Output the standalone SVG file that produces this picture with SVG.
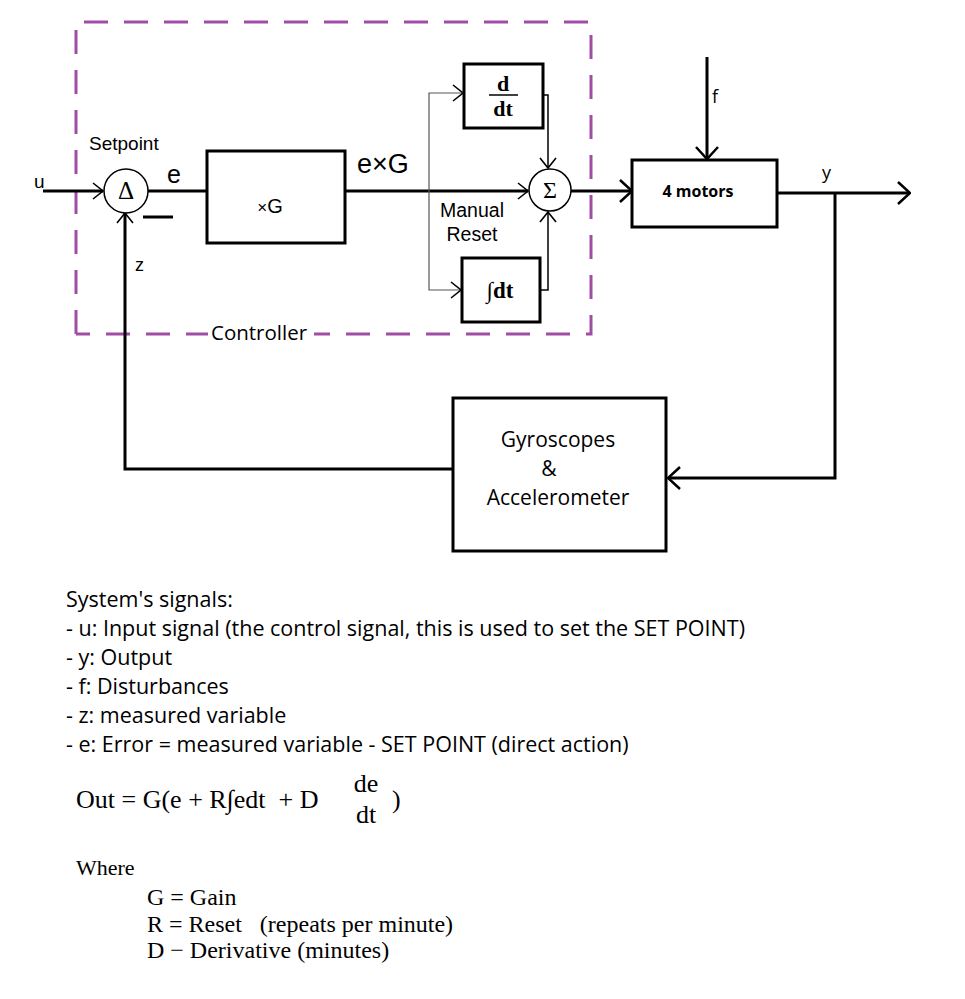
<svg xmlns="http://www.w3.org/2000/svg" width="965" height="999" viewBox="0 0 965 999">
<style>
.ln{stroke:#000;stroke-width:3;fill:none}
.tn{stroke:#555;stroke-width:1.2;fill:none}
.tb{stroke:#000;stroke-width:1.5;fill:none}
.box{stroke:#000;stroke-width:3;fill:#fff}
.circ{stroke:#000;stroke-width:1.5;fill:#fff}
.ar{font-family:"Liberation Sans",Arial,sans-serif;fill:#000}
.ca{font-family:"Open Sans","Noto Sans",sans-serif;fill:#000}
.tm{font-family:"Liberation Serif","Times New Roman",serif;fill:#000}
.pre{white-space:pre}
</style>
<defs>
<marker id="ah" viewBox="0 0 14 24" refX="13" refY="12" markerWidth="14" markerHeight="24" markerUnits="userSpaceOnUse" orient="auto">
<path d="M1,1 L13,12 L1,23" fill="none" stroke="#000" stroke-width="2.5"/>
</marker>
<marker id="ahs" viewBox="0 0 12 18" refX="11" refY="9" markerWidth="12" markerHeight="18" markerUnits="userSpaceOnUse" orient="auto">
<path d="M1,1 L11,9 L1,17" fill="none" stroke="#000" stroke-width="1.6"/>
</marker>
</defs>
<rect width="965" height="999" fill="#fff"/>

<g id="controller-frame">
<path d="M76,334 L76,22 L591,22 L591,334 L76,334" fill="none" stroke="#A04DA3" stroke-width="3" stroke-dasharray="24 16"/>
<rect x="208" y="320" width="106" height="24" fill="#fff"/>
<text class="ca" x="211" y="340" font-size="20.5">Controller</text>
</g>

<g id="connectors">
<line class="ln" x1="43" y1="191" x2="103" y2="191" marker-end="url(#ahs)"/>
<path class="ln" d="M453,469 L125,469 L125,213" marker-end="url(#ahs)"/>
<line class="ln" x1="148" y1="191" x2="207" y2="191"/>
<line class="ln" x1="345" y1="191" x2="528" y2="191" marker-end="url(#ahs)"/>
<path class="tn" d="M464,93 L429,93 L429,290 L462,290"/>
<line x1="448" y1="93" x2="463" y2="93" stroke="none" marker-end="url(#ahs)"/>
<line x1="446" y1="290" x2="461" y2="290" stroke="none" marker-end="url(#ahs)"/>
<path class="tb" d="M543,95 L548,95 L548,168" marker-end="url(#ahs)"/>
<path class="tb" d="M540,290 L548,290 L548,212" marker-end="url(#ahs)"/>
<line class="ln" x1="571" y1="191" x2="632" y2="191" marker-end="url(#ah)"/>
<line class="ln" x1="707" y1="57" x2="707" y2="159" marker-end="url(#ah)"/>
<line class="ln" x1="777" y1="193" x2="910" y2="193" marker-end="url(#ah)"/>
<path class="ln" d="M835,193 L835,478 L668,478" marker-end="url(#ah)"/>
<line class="ln" x1="143" y1="217" x2="173" y2="217"/>
</g>

<g id="delta">
<circle class="circ" cx="126" cy="191" r="22"/>
<text class="tm" x="126" y="199" font-size="25" text-anchor="middle">Δ</text>
</g>

<g id="gain">
<rect class="box" x="207" y="151" width="138" height="92"/>
<text class="ar" x="270" y="213" text-anchor="middle"><tspan font-size="17">×</tspan><tspan font-size="20">G</tspan></text>
</g>

<g id="derivative">
<rect class="box" x="464" y="64" width="79" height="64"/>
<text class="tm" x="503" y="91" font-size="22" font-weight="bold" text-anchor="middle">d</text>
<line x1="489" y1="95" x2="518" y2="95" stroke="#000" stroke-width="1.5"/>
<text class="tm" x="503" y="116" font-size="22" font-weight="bold" text-anchor="middle">dt</text>
</g>

<g id="integral">
<rect class="box" x="462" y="258" width="78" height="64"/>
<text class="tm" x="500" y="298" font-size="23" font-weight="bold" text-anchor="middle">∫dt</text>
</g>

<g id="sum">
<circle class="circ" cx="550" cy="190" r="21"/>
<text class="tm" x="550" y="198" font-size="24" text-anchor="middle">Σ</text>
</g>

<g id="motors">
<rect class="box" x="632" y="160" width="145" height="67"/>
<text class="ca" x="698" y="197" font-size="16" font-weight="bold" text-anchor="middle">4 motors</text>
</g>

<g id="sensors">
<rect class="box" x="453" y="398" width="213" height="153"/>
<text class="ca" x="558" y="447" font-size="21" text-anchor="middle">Gyroscopes</text>
<text class="ca" x="549" y="476" font-size="21" text-anchor="middle">&amp;</text>
<text class="ca" x="558" y="505" font-size="21" text-anchor="middle">Accelerometer</text>
</g>

<g id="labels">
<text class="ar" x="34" y="188" font-size="19">u</text>
<text class="ar" x="89" y="150" font-size="19">Setpoint</text>
<text class="ar" x="167" y="183" font-size="25">e</text>
<text class="ar" x="135" y="271" font-size="18">z</text>
<text class="ar" x="357" y="173" font-size="27">e×G</text>
<text class="ar" x="472" y="217" font-size="19.5" text-anchor="middle">Manual</text>
<text class="ar" x="472" y="241" font-size="19.5" text-anchor="middle">Reset</text>
<text class="ca" x="712" y="103" font-size="18">f</text>
<text class="ca" x="822" y="179" font-size="18">y</text>
</g>

<g id="signals" class="ca" font-size="21.5">
<text x="66" y="607">System's signals:</text>
<text x="66" y="636">- u: Input signal (the control signal, this is used to set the SET POINT)</text>
<text x="66" y="665">- y: Output</text>
<text x="66" y="694">- f: Disturbances</text>
<text x="66" y="723">- z: measured variable</text>
<text x="66" y="752">- e: Error = measured variable - SET POINT (direct action)</text>
</g>

<g id="formula" class="tm">
<text class="pre" x="76" y="808" font-size="26">Out = G(e + R∫edt  + D</text>
<text x="366" y="792" font-size="26" text-anchor="middle">de</text>
<text x="366" y="823" font-size="26" text-anchor="middle">dt</text>
<text x="392" y="808" font-size="26">)</text>
<text x="76" y="875" font-size="22">Where</text>
<text x="147" y="905" font-size="24">G = Gain</text>
<text class="pre" x="147" y="932" font-size="24">R = Reset   (repeats per minute)</text>
<text x="147" y="958" font-size="24">D − Derivative (minutes)</text>
</g>
</svg>
